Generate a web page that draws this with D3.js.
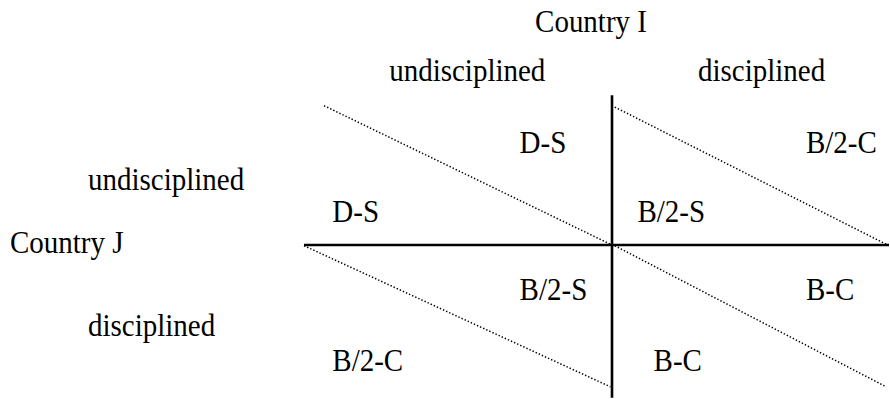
<!DOCTYPE html>
<html>
<head>
<meta charset="utf-8">
<script src="https://cdn.jsdelivr.net/npm/d3@7"></script>
<style>
  body { margin: 0; background: #fff; }
  text { font-family: "Liberation Serif", "Times New Roman", serif; font-size: 29px; fill: #000; }
</style>
</head>
<body>
<div class="chart"></div>
<script>
var width = 890
var height = 399

// game: rows = Country J strategies, columns = Country I strategies
var rowPlayer = 'Country J'
var colPlayer = 'Country I'
var strategies = ['undisciplined', 'disciplined']
// payoff of Country I (upper right of cell) and Country J (lower left)
var payoffI = [['D-S', 'B/2-C'], ['B/2-S', 'B-C']]
var payoffJ = [['D-S', 'B/2-S'], ['B/2-C', 'B-C']]

var svg = d3.select('.chart')
    .append('svg')
    .attr('width', width)
    .attr('height', height)

// cell grid scales (piecewise, the columns are not equal)
var xScale = d3.scaleLinear().domain([0, 1, 2]).range([304, 612, 889])
var yScale = d3.scaleLinear().domain([0, 1, 2]).range([105, 245, 389])

// the source text is a bit taller than it is wide
function place(x, y) {
    return 'translate(' + x + ',' + y + ') scale(1,1.1)'
}

var cells = []
strategies.forEach(function (r, i) {
    strategies.forEach(function (c, j) {
        cells.push({r: i, c: j, pI: payoffI[i][j], pJ: payoffJ[i][j]})
    })
})

// dotted diagonals
svg.selectAll('.diag')
    .data(cells)
    .enter()
    .append('line')
    .attr('class', 'diag')
    .attr('x1', function (d) { return xScale(d.c + (d.r == 0 && d.c == 0 ? 0.065 : 0.01 * d.c)) })
    .attr('y1', function (d) { return yScale(d.r + (d.r == 0 && d.c == 1 ? 0.015 : 0.005)) })
    .attr('x2', function (d) { return xScale(d.c + 1 - 0.005 * (d.r + d.c)) })
    .attr('y2', function (d) { return yScale(d.r + 1 - 0.015 * d.r) })
    .attr('stroke', '#000')
    .attr('stroke-width', 1.5)
    .attr('stroke-dasharray', '1.4,2')

// axes of the matrix
svg.append('line')
    .attr('x1', xScale(1)).attr('x2', xScale(1))
    .attr('y1', yScale(-0.07)).attr('y2', yScale(2.06))
    .attr('stroke', '#000').attr('stroke-width', 2.6)
svg.append('line')
    .attr('x1', xScale(0)).attr('x2', xScale(2))
    .attr('y1', yScale(1)).attr('y2', yScale(1))
    .attr('stroke', '#000').attr('stroke-width', 2.6)

// payoffs
svg.selectAll('.pI')
    .data(cells)
    .enter()
    .append('text')
    .attr('class', 'pI')
    .attr('transform', function (d) {
        return place(xScale(d.c + 0.7), yScale(d.r + (d.r == 0 ? 0.343 : 0.385)))
    })
    .text(function (d) { return d.pI })

svg.selectAll('.pJ')
    .data(cells)
    .enter()
    .append('text')
    .attr('class', 'pJ')
    .attr('transform', function (d) {
        return place(xScale(d.c + (d.r == 1 && d.c == 1 ? 0.15 : 0.092)), yScale(d.r + (d.r == 0 ? 0.836 : 0.874)))
    })
    .text(function (d) { return d.pJ })

// player and strategy labels
svg.append('text')
    .attr('transform', place(591, 32))
    .attr('text-anchor', 'middle')
    .text(colPlayer)
svg.selectAll('.colLab')
    .data(strategies)
    .enter()
    .append('text')
    .attr('class', 'colLab')
    .attr('transform', function (d, i) { return place(xScale(i + (i == 0 ? 0.53 : 0.54)), 81) })
    .attr('text-anchor', 'middle')
    .text(function (d) { return d })

svg.append('text')
    .attr('transform', place(10, 253))
    .text(rowPlayer)
svg.selectAll('.rowLab')
    .data(strategies)
    .enter()
    .append('text')
    .attr('class', 'rowLab')
    .attr('transform', function (d, i) { return place(88, i == 0 ? 190 : 336) })
    .text(function (d) { return d })
</script>
</body>
</html>
